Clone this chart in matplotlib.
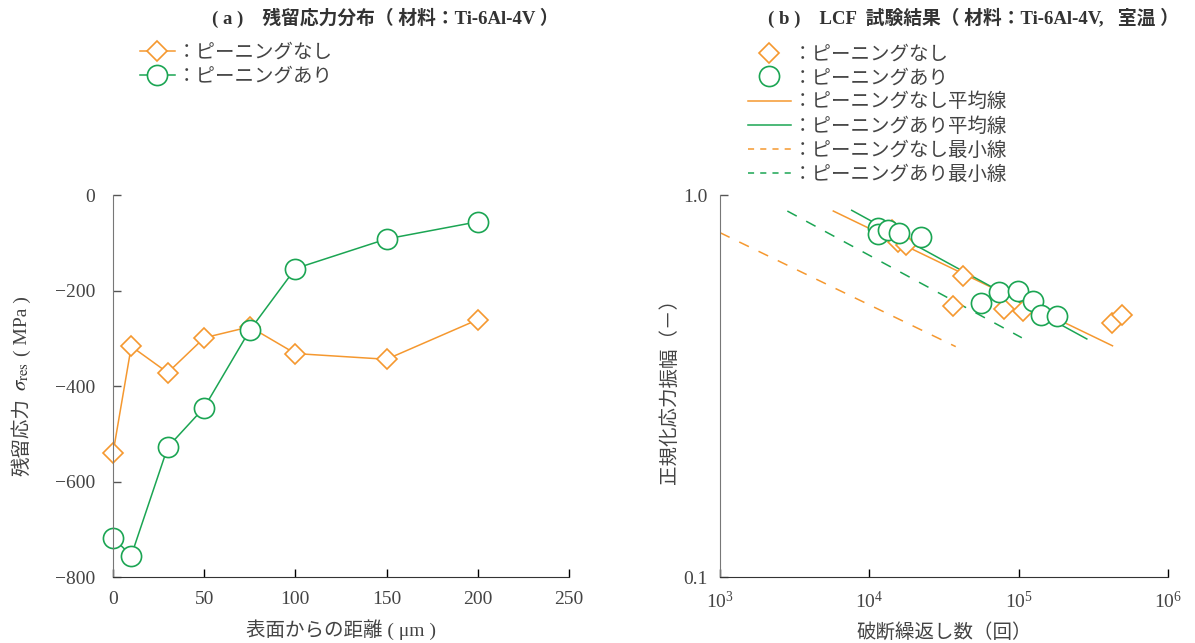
import matplotlib
matplotlib.use('Agg')
import matplotlib.pyplot as plt
from matplotlib.lines import Line2D
from matplotlib.ticker import LogFormatterMathtext, NullLocator, FixedLocator

plt.rcParams['font.family'] = ['Liberation Serif', 'Noto Sans CJK JP']
plt.rcParams['mathtext.fontset'] = 'stix'

ORANGE = '#F5982F'
GREEN = '#1BA553'
TXT = '#444444'

# (a) residual stress profile
depth = [0, 10, 30, 50, 75, 100, 150, 200]
stress_no_peen = [-540, -317, -372, -299, -276, -332, -344, -261]
stress_peen = [-718, -755, -528, -445, -283, -154, -92, -56]

# (b) LCF results
n_no_peen = [14130, 15560, 17620, 42650, 36550, 79800, 107000, 421000, 491000]
s_no_peen = [0.810, 0.754, 0.740, 0.614, 0.513, 0.503, 0.498, 0.461, 0.486]
n_peen = [11480, 11480, 13340, 15880, 22080, 55970, 74300, 99500, 124100, 141300, 180700]
s_peen = [0.821, 0.792, 0.810, 0.797, 0.777, 0.523, 0.558, 0.561, 0.529, 0.485, 0.483]

# fitted lines (end points)
mean_no_peen_n = [5740, 425000]
mean_no_peen_s = [0.908, 0.403]
mean_peen_n = [7620, 286000]
mean_peen_s = [0.912, 0.420]
min_no_peen_n = [1000, 37900]
min_no_peen_s = [0.797, 0.401]
min_peen_n = [2825, 105000]
min_peen_s = [0.908, 0.423]

fig = plt.figure(figsize=(11.95, 6.43), dpi=100)
ax1 = fig.add_axes([0.0946, 0.1026, 0.3815, 0.5941])
ax2 = fig.add_axes([0.6025, 0.1026, 0.3749, 0.5941])

dia = dict(marker='D', markersize=10.5, markerfacecolor='white', markeredgewidth=1.2)
cir = dict(marker='o', markersize=14.5, markerfacecolor='white', markeredgewidth=1.2)

# panel a
ax1.plot(depth, stress_no_peen, color=ORANGE, lw=1.1, markeredgecolor=ORANGE, clip_on=False, **dia)
ax1.plot(depth, stress_peen, color=GREEN, lw=1.1, markeredgecolor=GREEN, clip_on=False, **cir)
ax1.set_xlim(0, 250)
ax1.set_ylim(-800, 0)
ax1.set_xticks([0, 50, 100, 150, 200, 250])
ax1.set_yticks([0, -200, -400, -600, -800])
ax1.set_yticklabels(['0', '\u2212200', '\u2212400', '\u2212600', '\u2212800'])
ax1.set_xlabel('表面からの距離 ( μm )', fontsize=14, color=TXT, labelpad=8)
# y label in pieces so the kanji and the math symbol each get a proper font
ax1.text(-0.2, 0.366, '残留応力', transform=ax1.transAxes, rotation=90, ha='center', va='center',
         fontsize=14, color=TXT)
ax1.text(-0.2, 0.526, '$\\sigma_{\\rm res}$', transform=ax1.transAxes,
         rotation=90, ha='center', va='center', fontsize=15, color='#333333')
ax1.text(-0.2, 0.657, '( MPa )', transform=ax1.transAxes, rotation=90, ha='center', va='center',
         fontsize=14, color=TXT)

# panel b
ax2.plot(n_no_peen, s_no_peen, linestyle='none', markeredgecolor=ORANGE, zorder=3, **dia)
ax2.plot(n_peen, s_peen, linestyle='none', markeredgecolor=GREEN, zorder=4, **cir)
ax2.plot(mean_no_peen_n, mean_no_peen_s, color=ORANGE, lw=1.1, zorder=2)
ax2.plot(mean_peen_n, mean_peen_s, color=GREEN, lw=1.1, zorder=2)
ax2.plot(min_no_peen_n, min_no_peen_s, color=ORANGE, lw=1.1, linestyle=(0, (7, 7)), zorder=2)
ax2.plot(min_peen_n, min_peen_s, color=GREEN, lw=1.1, linestyle=(0, (7, 7)), zorder=2)
ax2.set_xscale('log')
ax2.set_yscale('log')
ax2.set_xlim(1e3, 1e6)
ax2.set_ylim(0.1, 1.0)
ax2.xaxis.set_major_locator(FixedLocator([1e3, 1e4, 1e5, 1e6]))
ax2.xaxis.set_major_formatter(LogFormatterMathtext())
ax2.xaxis.set_minor_locator(NullLocator())
ax2.yaxis.set_major_locator(FixedLocator([0.1, 1.0]))
ax2.yaxis.set_minor_locator(NullLocator())
ax2.set_yticklabels(['0.1', '1.0'])
ax2.set_xlabel('破断繰返し数（回）', fontsize=14, color=TXT, labelpad=8)
ax2.set_ylabel('正規化応力振幅（－）', fontsize=14, color=TXT, labelpad=3)

for ax in (ax1, ax2):
    ax.spines['top'].set_visible(False)
    ax.spines['right'].set_visible(False)
    ax.spines['left'].set_color('#777777')
    ax.spines['bottom'].set_color('#333333')
    ax.tick_params(direction='in', length=6, width=1, labelsize=14, labelcolor=TXT)
    ax.tick_params(axis='x', pad=10)
    ax.tick_params(axis='y', colors='#555555', labelcolor=TXT)
ax1.tick_params(axis='y', pad=13)
ax2.tick_params(axis='y', pad=9)

fig.text(0.322, 0.972, '( a )    残留応力分布（ 材料：Ti-6Al-4V ）', ha='center', va='center',
         fontsize=13.5, fontweight='bold', color='#333333')
fig.text(0.815, 0.972, '( b )    LCF  試験結果（ 材料：Ti-6Al-4V,   室温 ）', ha='center', va='center',
         fontsize=13.5, fontweight='bold', color='#333333')

# legends
h_a = [Line2D([], [], color=ORANGE, lw=1.1, markeredgecolor=ORANGE, **dia),
       Line2D([], [], color=GREEN, lw=1.1, markeredgecolor=GREEN, **cir)]
fig.legend(h_a, ['：ピーニングなし', '：ピーニングあり'], loc='upper left',
           bbox_to_anchor=(0.117, 0.932), frameon=False, fontsize=14, labelcolor=TXT,
           handlelength=1.8, handletextpad=0.1, labelspacing=0.34, borderpad=0, borderaxespad=0)

h_b = [Line2D([], [], linestyle='none', markeredgecolor=ORANGE, **dia),
       Line2D([], [], linestyle='none', markeredgecolor=GREEN, **cir),
       Line2D([], [], color=ORANGE, lw=1.1),
       Line2D([], [], color=GREEN, lw=1.1),
       Line2D([], [], color=ORANGE, lw=1.1, linestyle=(0, (4, 4))),
       Line2D([], [], color=GREEN, lw=1.1, linestyle=(0, (4, 4)))]
fig.legend(h_b, ['：ピーニングなし', '：ピーニングあり', '：ピーニングなし平均線',
                 '：ピーニングあり平均線', '：ピーニングなし最小線', '：ピーニングあり最小線'],
           loc='upper left', bbox_to_anchor=(0.626, 0.928), frameon=False, fontsize=14,
           labelcolor=TXT, handlelength=2.2, handletextpad=0.1, labelspacing=0.29,
           borderpad=0, borderaxespad=0)

fig.savefig('out.png', dpi=100)
